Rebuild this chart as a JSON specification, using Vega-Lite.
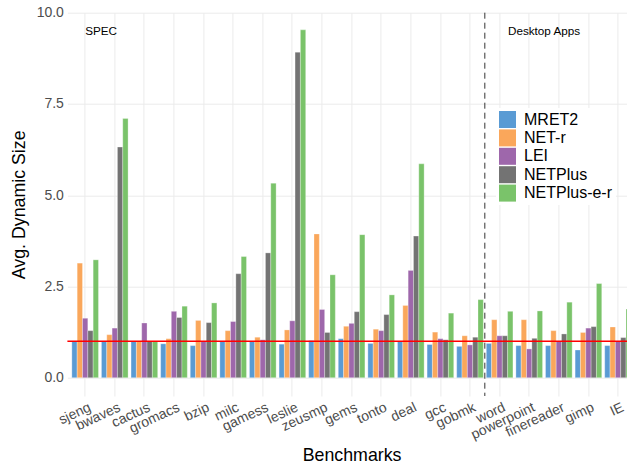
{
  "$schema": "https://vega.github.io/schema/vega-lite/v6.json",
  "width": 559.6,
  "height": 383.3,
  "autosize": {"type": "none"},
  "padding": {"left": 67.4, "top": 12.7, "right": 0, "bottom": 72},
  "background": "white",
  "config": {"view": {"stroke": null}, "font": "Liberation Sans"},
  "datasets": {
    "bars": [
    {"benchmark": "sjeng", "method": "MRET2", "value": 1.0},
    {"benchmark": "sjeng", "method": "NET-r", "value": 3.14},
    {"benchmark": "sjeng", "method": "LEI", "value": 1.63},
    {"benchmark": "sjeng", "method": "NETPlus", "value": 1.29},
    {"benchmark": "sjeng", "method": "NETPlus-e-r", "value": 3.23},
    {"benchmark": "bwaves", "method": "MRET2", "value": 1.0},
    {"benchmark": "bwaves", "method": "NET-r", "value": 1.18},
    {"benchmark": "bwaves", "method": "LEI", "value": 1.36},
    {"benchmark": "bwaves", "method": "NETPlus", "value": 6.32},
    {"benchmark": "bwaves", "method": "NETPlus-e-r", "value": 7.1},
    {"benchmark": "cactus", "method": "MRET2", "value": 1.0},
    {"benchmark": "cactus", "method": "NET-r", "value": 1.0},
    {"benchmark": "cactus", "method": "LEI", "value": 1.5},
    {"benchmark": "cactus", "method": "NETPlus", "value": 1.0},
    {"benchmark": "cactus", "method": "NETPlus-e-r", "value": 1.0},
    {"benchmark": "gromacs", "method": "MRET2", "value": 0.93},
    {"benchmark": "gromacs", "method": "NET-r", "value": 1.07},
    {"benchmark": "gromacs", "method": "LEI", "value": 1.82},
    {"benchmark": "gromacs", "method": "NETPlus", "value": 1.65},
    {"benchmark": "gromacs", "method": "NETPlus-e-r", "value": 1.96},
    {"benchmark": "bzip", "method": "MRET2", "value": 0.88},
    {"benchmark": "bzip", "method": "NET-r", "value": 1.57},
    {"benchmark": "bzip", "method": "LEI", "value": 1.0},
    {"benchmark": "bzip", "method": "NETPlus", "value": 1.51},
    {"benchmark": "bzip", "method": "NETPlus-e-r", "value": 2.05},
    {"benchmark": "milc", "method": "MRET2", "value": 1.0},
    {"benchmark": "milc", "method": "NET-r", "value": 1.29},
    {"benchmark": "milc", "method": "LEI", "value": 1.54},
    {"benchmark": "milc", "method": "NETPlus", "value": 2.85},
    {"benchmark": "milc", "method": "NETPlus-e-r", "value": 3.32},
    {"benchmark": "gamess", "method": "MRET2", "value": 1.0},
    {"benchmark": "gamess", "method": "NET-r", "value": 1.11},
    {"benchmark": "gamess", "method": "LEI", "value": 1.04},
    {"benchmark": "gamess", "method": "NETPlus", "value": 3.42},
    {"benchmark": "gamess", "method": "NETPlus-e-r", "value": 5.33},
    {"benchmark": "leslie", "method": "MRET2", "value": 0.92},
    {"benchmark": "leslie", "method": "NET-r", "value": 1.31},
    {"benchmark": "leslie", "method": "LEI", "value": 1.56},
    {"benchmark": "leslie", "method": "NETPlus", "value": 8.92},
    {"benchmark": "leslie", "method": "NETPlus-e-r", "value": 9.53},
    {"benchmark": "zeusmp", "method": "MRET2", "value": 1.02},
    {"benchmark": "zeusmp", "method": "NET-r", "value": 3.94},
    {"benchmark": "zeusmp", "method": "LEI", "value": 1.87},
    {"benchmark": "zeusmp", "method": "NETPlus", "value": 1.24},
    {"benchmark": "zeusmp", "method": "NETPlus-e-r", "value": 2.82},
    {"benchmark": "gems", "method": "MRET2", "value": 1.07},
    {"benchmark": "gems", "method": "NET-r", "value": 1.41},
    {"benchmark": "gems", "method": "LEI", "value": 1.49},
    {"benchmark": "gems", "method": "NETPlus", "value": 1.81},
    {"benchmark": "gems", "method": "NETPlus-e-r", "value": 3.92},
    {"benchmark": "tonto", "method": "MRET2", "value": 0.94},
    {"benchmark": "tonto", "method": "NET-r", "value": 1.33},
    {"benchmark": "tonto", "method": "LEI", "value": 1.29},
    {"benchmark": "tonto", "method": "NETPlus", "value": 1.73},
    {"benchmark": "tonto", "method": "NETPlus-e-r", "value": 2.27},
    {"benchmark": "deal", "method": "MRET2", "value": 1.0},
    {"benchmark": "deal", "method": "NET-r", "value": 1.98},
    {"benchmark": "deal", "method": "LEI", "value": 2.94},
    {"benchmark": "deal", "method": "NETPlus", "value": 3.88},
    {"benchmark": "deal", "method": "NETPlus-e-r", "value": 5.86},
    {"benchmark": "gcc", "method": "MRET2", "value": 0.91},
    {"benchmark": "gcc", "method": "NET-r", "value": 1.25},
    {"benchmark": "gcc", "method": "LEI", "value": 1.07},
    {"benchmark": "gcc", "method": "NETPlus", "value": 1.04},
    {"benchmark": "gcc", "method": "NETPlus-e-r", "value": 1.77},
    {"benchmark": "gobmk", "method": "MRET2", "value": 0.86},
    {"benchmark": "gobmk", "method": "NET-r", "value": 1.15},
    {"benchmark": "gobmk", "method": "LEI", "value": 0.9},
    {"benchmark": "gobmk", "method": "NETPlus", "value": 1.11},
    {"benchmark": "gobmk", "method": "NETPlus-e-r", "value": 2.14},
    {"benchmark": "word", "method": "MRET2", "value": 0.94},
    {"benchmark": "word", "method": "NET-r", "value": 1.59},
    {"benchmark": "word", "method": "LEI", "value": 1.15},
    {"benchmark": "word", "method": "NETPlus", "value": 1.15},
    {"benchmark": "word", "method": "NETPlus-e-r", "value": 1.82},
    {"benchmark": "powerpoint", "method": "MRET2", "value": 0.88},
    {"benchmark": "powerpoint", "method": "NET-r", "value": 1.59},
    {"benchmark": "powerpoint", "method": "LEI", "value": 0.79},
    {"benchmark": "powerpoint", "method": "NETPlus", "value": 1.08},
    {"benchmark": "powerpoint", "method": "NETPlus-e-r", "value": 1.83},
    {"benchmark": "finereader", "method": "MRET2", "value": 0.88},
    {"benchmark": "finereader", "method": "NET-r", "value": 1.29},
    {"benchmark": "finereader", "method": "LEI", "value": 1.0},
    {"benchmark": "finereader", "method": "NETPlus", "value": 1.2},
    {"benchmark": "finereader", "method": "NETPlus-e-r", "value": 2.07},
    {"benchmark": "gimp", "method": "MRET2", "value": 0.76},
    {"benchmark": "gimp", "method": "NET-r", "value": 1.24},
    {"benchmark": "gimp", "method": "LEI", "value": 1.36},
    {"benchmark": "gimp", "method": "NETPlus", "value": 1.4},
    {"benchmark": "gimp", "method": "NETPlus-e-r", "value": 2.58},
    {"benchmark": "IE", "method": "MRET2", "value": 0.88},
    {"benchmark": "IE", "method": "NET-r", "value": 1.39},
    {"benchmark": "IE", "method": "LEI", "value": 1.0},
    {"benchmark": "IE", "method": "NETPlus", "value": 1.1},
    {"benchmark": "IE", "method": "NETPlus-e-r", "value": 1.88}
    ],
    "notes": [
      {"group": "SPEC", "benchmark": "sjeng", "level": 9.5},
      {"group": "Desktop Apps", "benchmark": "powerpoint", "level": 9.5}
    ],
    "single": [{"baseline": 1, "split": "gobmk"}]
  },
  "layer": [
    {
      "data": {"name": "bars"},
      "mark": {"type": "bar", "stroke": "white", "strokeWidth": 0.3},
      "encoding": {
        "x": {
          "field": "benchmark", "type": "nominal",
          "scale": {
            "domain": ["sjeng","bwaves","cactus","gromacs","bzip","milc","gamess","leslie","zeusmp","gems","tonto","deal","gcc","gobmk","word","powerpoint","finereader","gimp","IE"],
            "range": [0, 568.4], "paddingInner": 0.1, "paddingOuter": 0.15
          },
          "axis": {
            "title": "Benchmarks", "titleFontSize": 17.8, "titleFontWeight": "normal", "titleColor": "black",
            "titleX": 284.2, "titleY": 64.7, "titleBaseline": "alphabetic", "titleAlign": "center", "titleAnchor": null,
            "labelAngle": -25, "labelAlign": "right", "labelBaseline": "top", "labelFontSize": 14, "labelColor": "#4D4D4D",
            "labelPadding": 4, "labelOffset": 2, "ticks": false, "domain": false,
            "grid": true, "gridColor": "#EBEBEB", "gridWidth": 1, "labelOverlap": false, "bandPosition": 0.5
          }
        },
        "xOffset": {
          "field": "method", "type": "nominal",
          "scale": {"domain": ["MRET2","NET-r","LEI","NETPlus","NETPlus-e-r"], "paddingInner": 0, "paddingOuter": 0}
        },
        "y": {
          "field": "value", "type": "quantitative",
          "scale": {"domain": [-0.5, 10], "nice": false, "zero": false},
          "axis": {
            "title": "Avg. Dynamic Size", "titleFontSize": 17.8, "titleFontWeight": "normal", "titleColor": "black", "titlePadding": 8,
            "values": [0, 2.5, 5, 7.5, 10], "format": ".1f", "labelFontSize": 14, "labelColor": "#4D4D4D", "labelPadding": 4,
            "ticks": false, "domain": false, "grid": true, "gridColor": "#EBEBEB", "gridWidth": 1
          }
        },
        "color": {
          "field": "method", "type": "nominal",
          "scale": {"domain": ["MRET2","NET-r","LEI","NETPlus","NETPlus-e-r"], "range": ["#5A9BD4","#FAA75B","#9E67AB","#737373","#7AC36A"]},
          "legend": {
            "title": null, "orient": "none", "legendX": 428.6, "legendY": 95.3, "padding": 3, "fillColor": "white",
            "symbolType": "square", "symbolSize": 289, "symbolStrokeWidth": 0, "symbolOpacity": 1,
            "labelFontSize": 16, "labelColor": "black", "labelOffset": 8, "rowPadding": 1.4
          }
        }
      }
    },
    {
      "data": {"name": "single"},
      "mark": {"type": "rule", "color": "#FF0000", "strokeWidth": 1.3},
      "encoding": {"y": {"field": "baseline", "type": "quantitative"}}
    },
    {
      "data": {"name": "single"},
      "mark": {"type": "rule", "color": "#333333", "strokeWidth": 1, "strokeDash": [6, 4]},
      "encoding": {"x": {"field": "split", "type": "nominal", "bandPosition": 1.0556}}
    },
    {
      "data": {"name": "notes"},
      "transform": [{"filter": "datum.group === 'SPEC'"}],
      "mark": {"type": "text", "align": "left", "baseline": "middle", "fontSize": 11.7, "color": "black"},
      "encoding": {"x": {"field": "benchmark", "type": "nominal", "bandPosition": 0.5}, "y": {"field": "level", "type": "quantitative"}, "text": {"field": "group"}}
    },
    {
      "data": {"name": "notes"},
      "transform": [{"filter": "datum.group !== 'SPEC'"}],
      "mark": {"type": "text", "align": "center", "baseline": "middle", "fontSize": 11.7, "color": "black"},
      "encoding": {"x": {"field": "benchmark", "type": "nominal", "bandPosition": 1.0556}, "y": {"field": "level", "type": "quantitative"}, "text": {"field": "group"}}
    }
  ]
}
